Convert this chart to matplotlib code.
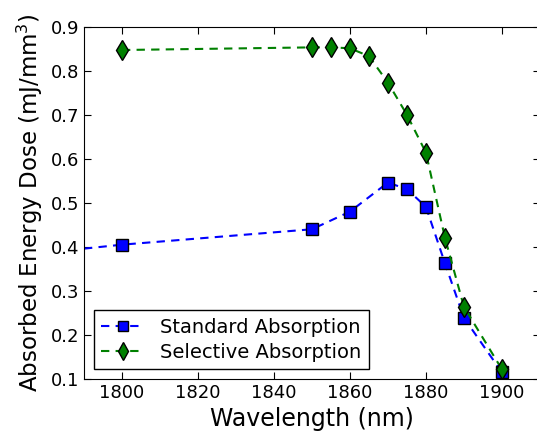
import matplotlib
matplotlib.use("Agg")
import matplotlib.pyplot as plt

wavelength = [1800, 1850, 1860, 1870, 1875, 1880, 1885, 1890, 1900]
standard = [0.405, 0.440, 0.480, 0.546, 0.531, 0.491, 0.363, 0.239, 0.115]
# dashed trend line for the standard curve starts at the left edge
standard_line_x = [1790] + wavelength
standard_line_y = [0.396] + standard

wavelength_sel = [1800, 1850, 1855, 1860, 1865, 1870, 1875, 1880, 1885, 1890, 1900]
selective = [0.847, 0.853, 0.853, 0.851, 0.833, 0.773, 0.700, 0.614, 0.421, 0.264, 0.122]

plt.rcParams["font.family"] = "DejaVu Sans"
plt.rcParams["xtick.direction"] = "in"
plt.rcParams["ytick.direction"] = "in"

fig = plt.figure(figsize=(5.37, 4.38), dpi=100)
ax = fig.add_axes([0.1564, 0.1347, 0.849, 0.8044])

ax.plot(standard_line_x, standard_line_y, color="blue", ls="--", dashes=(4, 3), lw=1.5,
        marker="s", mfc="blue", mec="black", ms=8,
        markevery=list(range(1, len(standard_line_x))), label="Standard Absorption")
ax.plot(wavelength_sel, selective, color="green", ls="--", dashes=(4, 3), lw=1.5,
        marker="d", mfc="green", mec="black", ms=10, label="Selective Absorption")

ax.set_xlim(1790, 1910)
ax.set_ylim(0.1, 0.9)
ax.set_xticks([1800, 1820, 1840, 1860, 1880, 1900])
ax.tick_params(labelsize=13, top=True, right=True, length=5)
ax.set_xlabel("Wavelength (nm)", fontsize=17)
ax.set_ylabel("Absorbed Energy Dose (mJ/mm$^3$)", fontsize=16.5)

leg = ax.legend(loc="lower left", numpoints=1, fontsize=14, fancybox=False,
                framealpha=1, borderaxespad=0.5, handlelength=2.2,
                markerscale=0.9, borderpad=0.4, labelspacing=0.3)
leg.get_frame().set_edgecolor("black")

fig.savefig("out.png", dpi=100)
